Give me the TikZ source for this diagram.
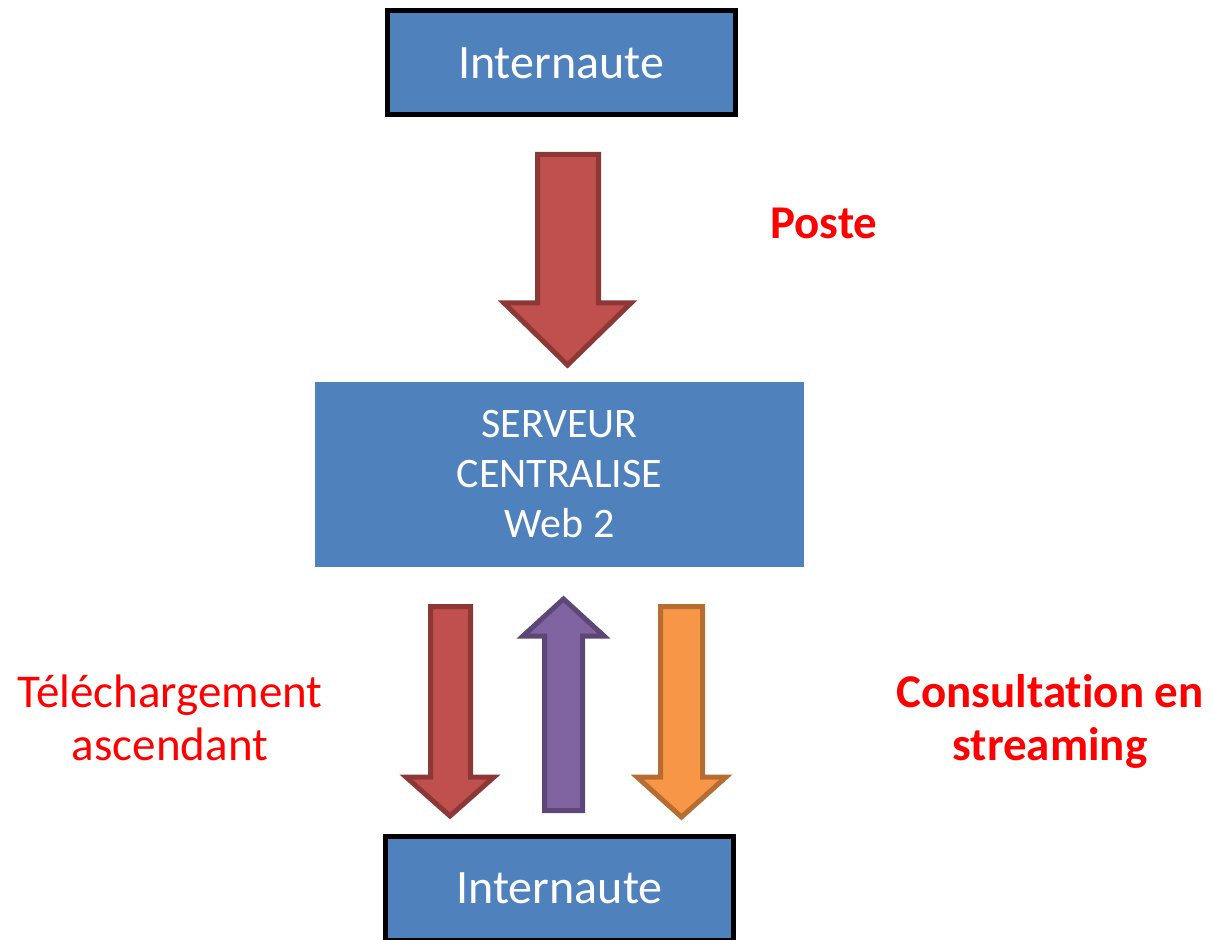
\documentclass[tikz,border=0pt]{standalone}
\usepackage{fontspec}
\setmainfont[Ligatures=NoCommon]{Carlito}
\definecolor{boxblue}{HTML}{4F81BD}
\definecolor{arrred}{HTML}{C0504D}
\definecolor{arrredline}{HTML}{8C3836}
\definecolor{arrpurple}{HTML}{8064A2}
\definecolor{arrpurpleline}{HTML}{5C4776}
\definecolor{arrorange}{HTML}{F79646}
\definecolor{arrorangeline}{HTML}{B66D31}
\definecolor{labelred}{HTML}{FF0000}
\begin{document}
\begin{tikzpicture}[x=0.5pt, y=-0.5pt,
  user/.style = {shape=rectangle, draw=black, line width=2.5pt, fill=boxblue, text=white,
    minimum width=174pt, minimum height=52pt, inner sep=0pt, font=\fontsize{24}{29}\selectfont},
  server/.style = {shape=rectangle, fill=boxblue, text=white, align=center,
    minimum width=244.5pt, minimum height=92.5pt, inner sep=0pt, font=\fontsize{21}{25}\selectfont},
  label/.style = {text=labelred, align=center, inner sep=0pt, font=\fontsize{23.5}{26.5}\selectfont},
  flowred/.style = {fill=arrred, draw=arrredline, line width=2.5pt},
  flowpurple/.style = {fill=arrpurple, draw=arrpurpleline, line width=2.5pt},
  floworange/.style = {fill=arrorange, draw=arrorangeline, line width=2.5pt}]

  \useasboundingbox (0,0) rectangle (1213,940);

  \node [user] (top) at (561,63) {Internaute};
  \node [server] (serveur) at (559.5,474.5) {SERVEUR\\CENTRALISE\\Web 2};
  \node [user] (bottom) at (559.5,888) {Internaute};

  % poste
  \draw [flowred] (537.5,154.5) -- (598.5,154.5) -- (598.5,303) -- (631,303)
    -- (567.5,365) -- (504,303) -- (537.5,303) -- cycle;
  \node [label, font=\fontsize{23.5}{26.5}\selectfont\bfseries, anchor=base] (poste) at (824,239) {Poste};

  % upload, back and streaming
  \draw [flowred] (430.5,606.5) -- (470.5,606.5) -- (470.5,777) -- (494,777)
    -- (450,816) -- (406,777) -- (430.5,777) -- cycle;
  \draw [flowpurple] (544.5,810.5) -- (582.5,810.5) -- (582.5,636) -- (604,636)
    -- (563.5,599) -- (523,636) -- (544.5,636) -- cycle;
  \draw [floworange] (660.5,606.5) -- (702.5,606.5) -- (702.5,777) -- (726,777)
    -- (681.5,817) -- (637,777) -- (660.5,777) -- cycle;

  \node [label, anchor=base] (upload) at (170,760) {T\'el\'echargement\\ascendant};
  \node [label, font=\fontsize{23.5}{26.5}\selectfont\bfseries, anchor=base] (stream) at (1050,760) {Consultation en\\streaming};

\end{tikzpicture}
\end{document}
